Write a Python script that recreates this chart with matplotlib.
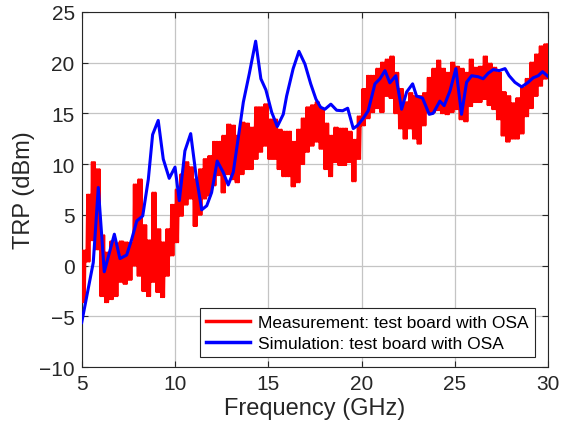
import matplotlib
matplotlib.use("Agg")
import matplotlib.pyplot as plt
import numpy as np

plt.rcParams.update({
    "font.family": "sans-serif", "font.sans-serif": ["Liberation Sans", "DejaVu Sans"],
    "font.size": 12, "axes.linewidth": 0.8,
    "xtick.direction": "in", "ytick.direction": "in",
    "xtick.top": True, "ytick.right": True,
})

# Measured TRP, min/max per 0.25 GHz bin (5.00 ... 29.75 GHz)
meas_f0 = 5.0
meas_step = 0.25
meas_lo = [
    -3.6, 0.4, 2.5, 1.6, -3.0, -3.6, -3.3, -3.0, -1.6, -1.8,
    -1.4, 0.0, -1.0, -2.5, -3.0, -1.6, -2.6, -3.1, -1.0, 1.0,
    2.3, 4.9, 6.0, 6.6, 3.9, 5.0, 6.6, 6.9, 7.9, 8.9,
    7.2, 9.0, 8.5, 8.2, 9.0, 9.5, 9.5, 10.5, 11.2, 11.8,
    10.5, 10.5, 9.5, 8.8, 8.8, 7.8, 8.2, 10.0, 11.2, 11.8,
    12.2, 11.5, 9.5, 8.8, 10.2, 9.9, 9.9, 10.2, 8.3, 10.5,
    13.8, 14.5, 15.1, 15.5, 15.1, 16.7, 16.5, 15.0, 13.5, 12.5,
    13.5, 12.5, 12.0, 13.8, 15.1, 15.1, 15.3, 15.0, 14.9, 15.1,
    15.4, 14.4, 14.2, 15.7, 16.1, 16.1, 16.4, 15.8, 15.4, 14.4,
    12.8, 12.2, 12.5, 12.5, 13.0, 14.7, 15.5, 16.7, 17.7, 18.4,
]
meas_hi = [
    1.5, 7.0, 10.2, 9.5, 3.0, 1.3, 2.4, 2.2, 2.4, 2.3,
    2.2, 8.0, 8.5, 4.0, 2.5, 7.2, 3.6, 2.3, 3.6, 6.0,
    7.5, 9.0, 10.2, 9.7, 8.5, 9.5, 10.5, 10.8, 12.2, 12.2,
    12.8, 13.9, 13.8, 12.8, 14.1, 14.0, 13.6, 15.6, 15.6, 15.9,
    14.4, 14.4, 13.4, 13.2, 13.2, 12.2, 13.4, 14.5, 15.6, 15.8,
    16.1, 15.5, 14.0, 12.8, 13.6, 13.5, 13.5, 13.2, 12.4, 14.7,
    17.4, 18.7, 18.7, 19.4, 20.0, 20.3, 20.6, 19.0, 17.4, 16.1,
    17.0, 16.7, 16.7, 17.0, 18.5, 19.4, 20.2, 19.4, 19.0, 20.0,
    19.6, 19.4, 19.0, 20.3, 19.5, 19.6, 20.6, 19.9, 19.5, 19.0,
    17.1, 16.7, 16.0, 16.5, 17.5, 18.4, 20.0, 20.8, 21.6, 21.8,
]

# Simulated TRP
sim_freq = [
    5.00, 5.62, 5.89, 6.21, 6.75, 7.05, 7.41, 7.68, 7.95, 8.27,
    8.57, 8.80, 9.10, 9.37, 9.69, 10.00, 10.23, 10.53, 10.84, 11.12,
    11.43, 11.70, 11.96, 12.26, 12.58, 12.85, 13.12, 13.39, 13.66, 13.98,
    14.32, 14.60, 14.87, 15.18, 15.48, 15.80, 15.98, 16.33, 16.64, 16.96,
    17.27, 17.55, 17.80, 18.03, 18.35, 18.66, 18.98, 19.25, 19.55, 19.78,
    20.08, 20.35, 20.71, 20.98, 21.25, 21.51, 21.83, 22.14, 22.41, 22.73,
    22.94, 23.26, 23.62, 23.83, 24.19, 24.42, 24.73, 25.05, 25.35, 25.62,
    25.89, 26.24, 26.51, 26.78, 27.05, 27.37, 27.68, 27.90, 28.21, 28.57,
    28.92, 29.19, 29.46, 29.69, 30.00,
]
sim_trp = [
    -5.6, 0.3, 7.7, -0.6, 3.1, 0.7, 1.05, 2.6, 4.4, 4.9,
    8.5, 12.9, 14.3, 10.5, 8.6, 9.7, 6.4, 11.3, 13.0, 9.0,
    5.5, 5.9, 7.2, 10.3, 9.2, 7.95, 9.2, 12.6, 16.1, 18.9,
    22.1, 18.4, 17.3, 15.1, 13.7, 14.9, 16.7, 19.4, 21.1, 19.85,
    17.9, 16.4, 15.6, 15.4, 15.9, 15.3, 15.25, 15.5, 13.5, 13.8,
    14.5, 15.25, 17.9, 18.4, 19.2, 18.0, 18.7, 15.4, 17.1, 17.9,
    16.7, 16.5, 14.9, 15.0, 16.2, 15.75, 17.2, 19.4, 14.9, 18.05,
    18.7, 18.6, 18.4, 18.95, 19.3, 19.2, 19.4, 18.7, 18.05, 17.6,
    18.05, 18.5, 18.7, 19.1, 18.6,
]

# dense min/max trace: each bin swept low -> high a few times
SWEEPS = 3
lo = np.repeat(np.asarray(meas_lo), SWEEPS)
hi = np.repeat(np.asarray(meas_hi), SWEEPS)
sub = meas_step / SWEEPS
f_lo = meas_f0 + sub * np.arange(len(lo))
f_hi = f_lo + sub / 2
meas_f = np.column_stack([f_lo, f_hi]).ravel()
meas_v = np.column_stack([lo, hi]).ravel()

fig = plt.figure(figsize=(5.61, 4.31), dpi=100)
ax = fig.add_axes([0.1456, 0.1455, 0.8318, 0.825])

ax.plot(meas_f, meas_v, color="#ff0000", lw=1.4,
        label="Measurement: test board with OSA", zorder=3)
ax.plot(sim_freq, sim_trp, color="#0000ff", lw=2.2,
        label="Simulation: test board with OSA", zorder=4)

ax.set_xlim(5, 30)
ax.set_ylim(-10, 25)
ax.set_xticks(np.arange(5, 31, 5))
ax.set_yticks(np.arange(-10, 26, 5))
ax.grid(True, color="#c4c4c4", lw=0.9)
ax.set_axisbelow(True)
for s in ax.spines.values():
    s.set_color("#262626")
ax.tick_params(colors="#262626", labelsize=15, length=4, width=0.8, pad=5)
ax.set_xlabel("Frequency (GHz)", fontsize=17, color="#262626", labelpad=3)
ax.set_ylabel("TRP (dBm)", fontsize=17, color="#262626", labelpad=3)

leg = ax.legend(loc="lower right", bbox_to_anchor=(0.9715, 0.029), borderaxespad=0,
                fontsize=12.5, fancybox=False, framealpha=1, edgecolor="#262626",
                handlelength=2.5, borderpad=0.35, labelspacing=0.35, handletextpad=0.5)
leg.get_frame().set_linewidth(0.8)
for ln in leg.get_lines():
    ln.set_linewidth(2.5)

fig.savefig("out.png", dpi=100)
